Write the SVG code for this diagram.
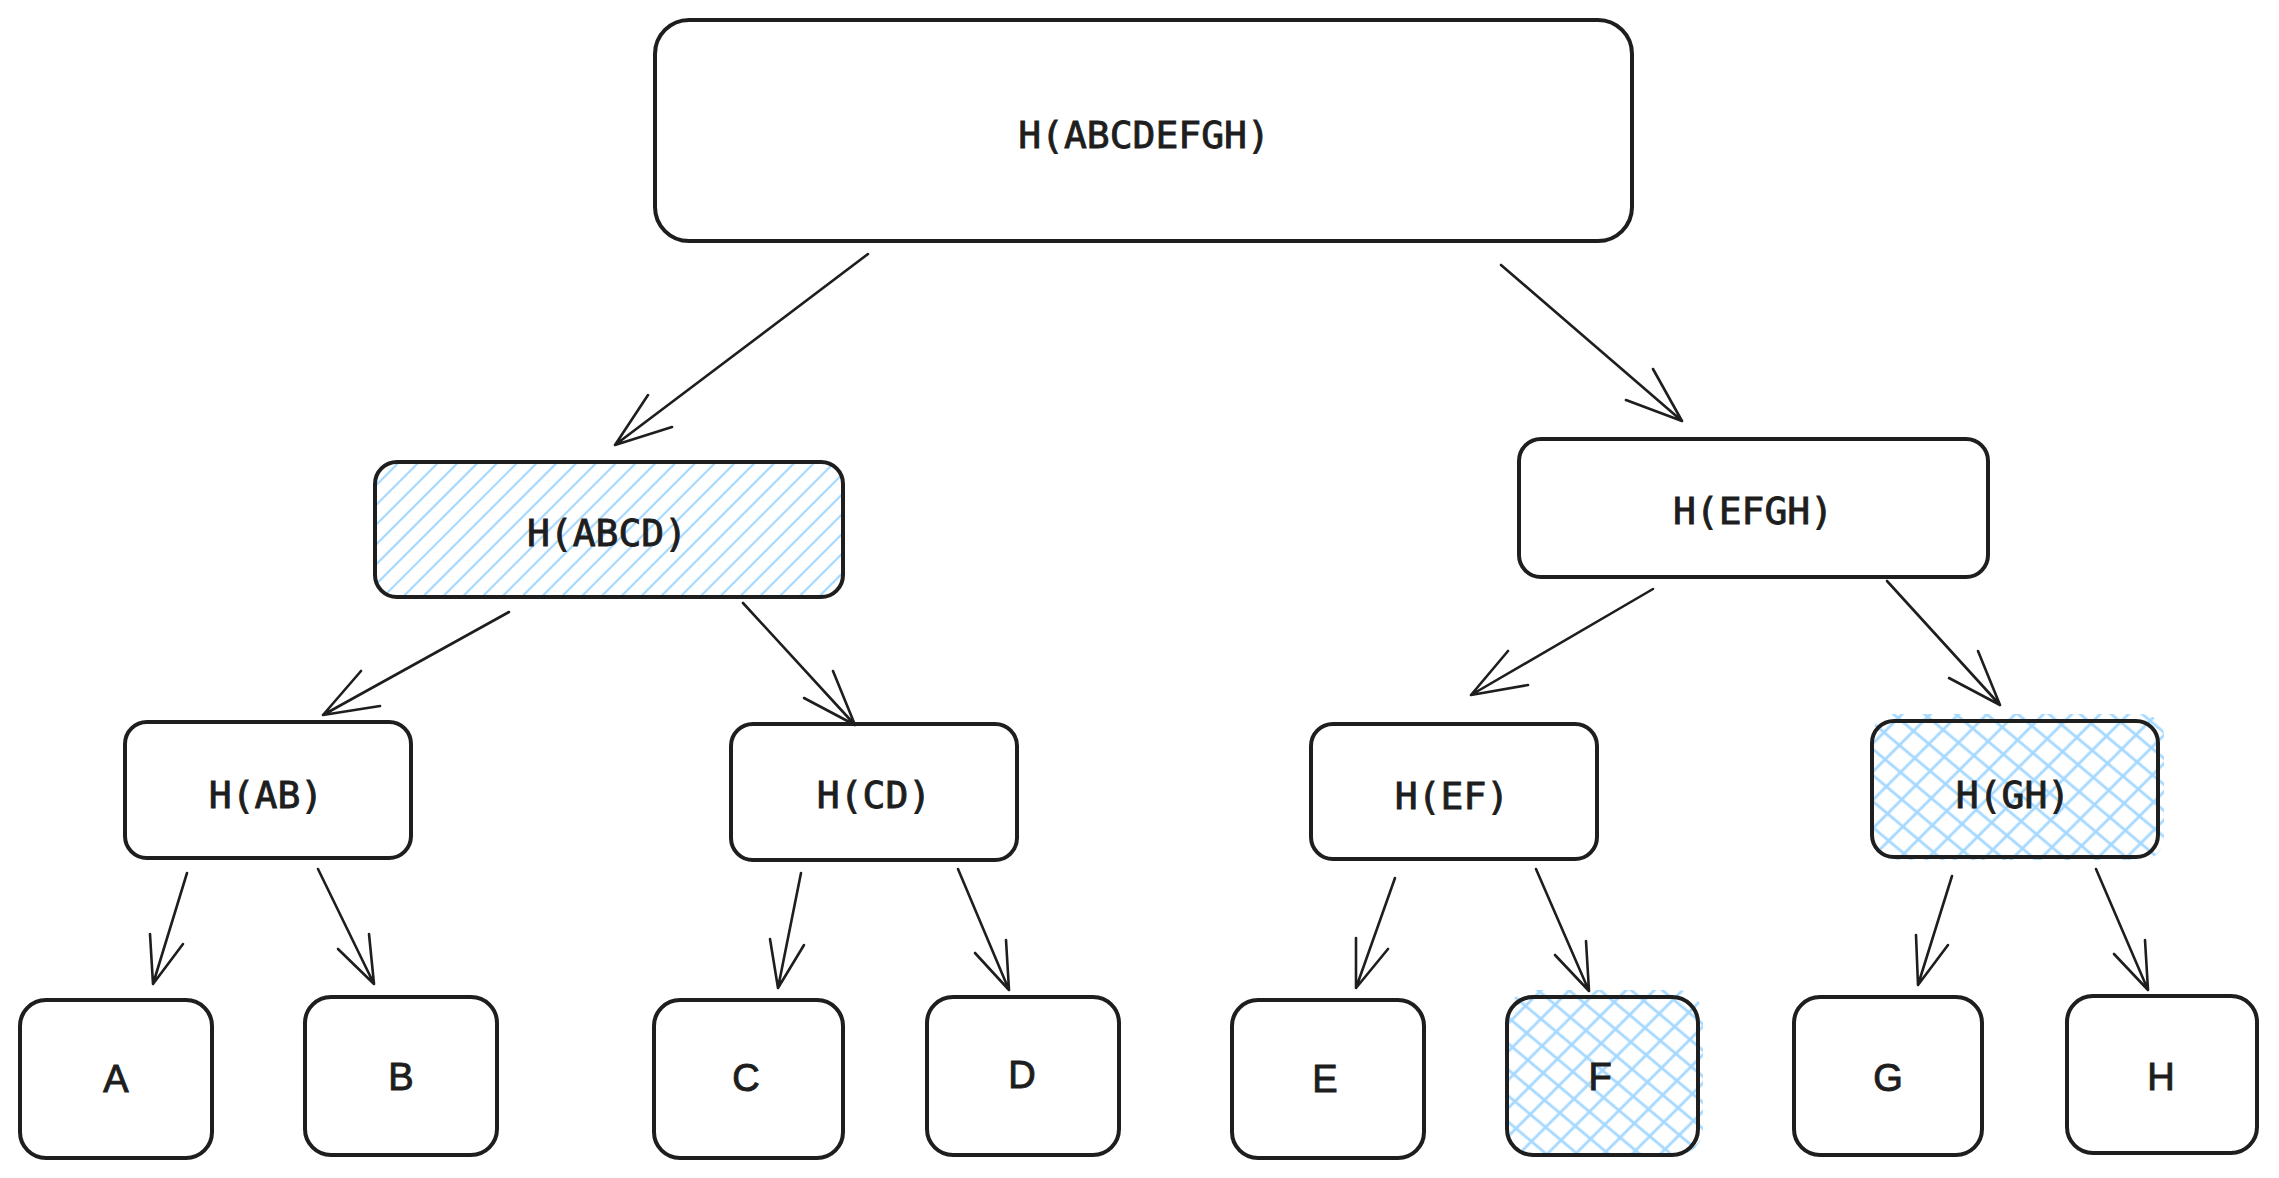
<svg xmlns="http://www.w3.org/2000/svg" width="2279" height="1178" viewBox="0 0 2279 1178">
<style>
.box{fill:none;stroke:#1e1e1e;stroke-width:4;stroke-linejoin:round}
.lbl{font-family:"DejaVu Sans Mono","Liberation Mono",monospace;font-size:38px;fill:#1e1e1e;stroke:#1e1e1e;stroke-width:0.9;text-anchor:middle}
.leaf{font-family:"Liberation Sans","DejaVu Sans",sans-serif;font-size:38px;fill:#1e1e1e;stroke:#1e1e1e;stroke-width:1;text-anchor:middle}
.arr{fill:none;stroke:#1e1e1e;stroke-width:2.6;stroke-linecap:round;stroke-linejoin:round}
</style>
<defs>
<pattern id="hatch" patternUnits="userSpaceOnUse" width="14" height="14" patternTransform="rotate(45)">
<line x1="7" y1="0" x2="7" y2="14" stroke="#a5d8ff" stroke-width="2.2"/>
</pattern>
<pattern id="hA" patternUnits="userSpaceOnUse" width="20" height="20" patternTransform="rotate(45)">
<line x1="10" y1="0" x2="10" y2="20" stroke="#a5d8ff" stroke-width="2.8"/>
</pattern>
<pattern id="hB" patternUnits="userSpaceOnUse" width="20" height="20" patternTransform="rotate(-50)">
<line x1="10" y1="0" x2="10" y2="20" stroke="#a5d8ff" stroke-width="2.8"/>
</pattern>
</defs>
<rect width="2279" height="1178" fill="#ffffff"/>
<g id="connectors">
<path class="arr" d="M868,254 L615,445 M648,395 L615,445 L672,427"/>
<path class="arr" d="M1501,265 L1682,421 M1653,369 L1682,421 L1626,400"/>
<path class="arr" d="M509,612 L323,715 M361,671 L323,715 L380,706"/>
<path class="arr" d="M743,603 L855,725 M833,671 L855,725 L804,698"/>
<path class="arr" d="M1653,589 L1471,695 M1508,651 L1471,695 L1528,685"/>
<path class="arr" d="M1887,581 L2000,705 M1978,651 L2000,705 L1949,678"/>
<path class="arr" d="M187,873 L153,984 M150,934 L153,984 L183,944"/>
<path class="arr" d="M318,869 L374,984 M369,934 L374,984 L338,949"/>
<path class="arr" d="M801,873 L778,988 M770,939 L778,988 L804,945"/>
<path class="arr" d="M958,869 L1009,990 M1006,940 L1009,990 L975,953"/>
<path class="arr" d="M1395,878 L1356,988 M1356,938 L1356,988 L1388,949"/>
<path class="arr" d="M1536,869 L1589,991 M1586,941 L1589,991 L1555,955"/>
<path class="arr" d="M1952,876 L1918,985 M1916,935 L1918,985 L1948,945"/>
<path class="arr" d="M2096,869 L2148,990 M2145,940 L2148,990 L2114,954"/>
</g>
<g id="node-root">
<rect class="box" x="655" y="20" width="977" height="221" rx="34"/>
<text class="lbl" x="1144" y="148">H(ABCDEFGH)</text>
</g>
<g id="node-abcd">
<rect x="375" y="462" width="468" height="135" rx="22" fill="url(#hatch)"/>
<rect class="box" x="375" y="462" width="468" height="135" rx="22"/>
<text class="lbl" x="607" y="546">H(ABCD)</text>
</g>
<g id="node-efgh">
<rect class="box" x="1519" y="439" width="469" height="138" rx="22"/>
<text class="lbl" x="1753" y="524">H(EFGH)</text>
</g>
<g id="node-ab">
<rect class="box" x="125" y="722" width="286" height="136" rx="22"/>
<text class="lbl" x="266" y="808">H(AB)</text>
</g>
<g id="node-cd">
<rect class="box" x="731" y="724" width="286" height="136" rx="22"/>
<text class="lbl" x="874" y="808">H(CD)</text>
</g>
<g id="node-ef">
<rect class="box" x="1311" y="724" width="286" height="135" rx="22"/>
<text class="lbl" x="1452" y="809">H(EF)</text>
</g>
<g id="node-gh">
<rect x="1872" y="714" width="292" height="146" rx="22" fill="url(#hA)"/>
<rect x="1872" y="714" width="292" height="146" rx="22" fill="url(#hB)"/>
<rect class="box" x="1872" y="721" width="286" height="136" rx="22"/>
<text class="lbl" x="2013" y="808">H(GH)</text>
</g>
<g id="node-a">
<rect class="box" x="20" y="1000" width="192" height="158" rx="26"/>
<text class="leaf" x="116" y="1092">A</text>
</g>
<g id="node-b">
<rect class="box" x="305" y="997" width="192" height="158" rx="26"/>
<text class="leaf" x="401" y="1090">B</text>
</g>
<g id="node-c">
<rect class="box" x="654" y="1000" width="189" height="158" rx="26"/>
<text class="leaf" x="746" y="1091">C</text>
</g>
<g id="node-d">
<rect class="box" x="927" y="997" width="192" height="158" rx="26"/>
<text class="leaf" x="1022" y="1088">D</text>
</g>
<g id="node-e">
<rect class="box" x="1232" y="1000" width="192" height="158" rx="26"/>
<text class="leaf" x="1325" y="1092">E</text>
</g>
<g id="node-f">
<rect x="1507" y="990" width="196" height="165" rx="26" fill="url(#hA)"/>
<rect x="1507" y="990" width="196" height="165" rx="26" fill="url(#hB)"/>
<rect class="box" x="1507" y="997" width="191" height="158" rx="26"/>
<text class="leaf" x="1600" y="1090">F</text>
</g>
<g id="node-g">
<rect class="box" x="1794" y="997" width="188" height="158" rx="26"/>
<text class="leaf" x="1888" y="1091">G</text>
</g>
<g id="node-h">
<rect class="box" x="2067" y="996" width="190" height="157" rx="26"/>
<text class="leaf" x="2161" y="1090">H</text>
</g>
</svg>
